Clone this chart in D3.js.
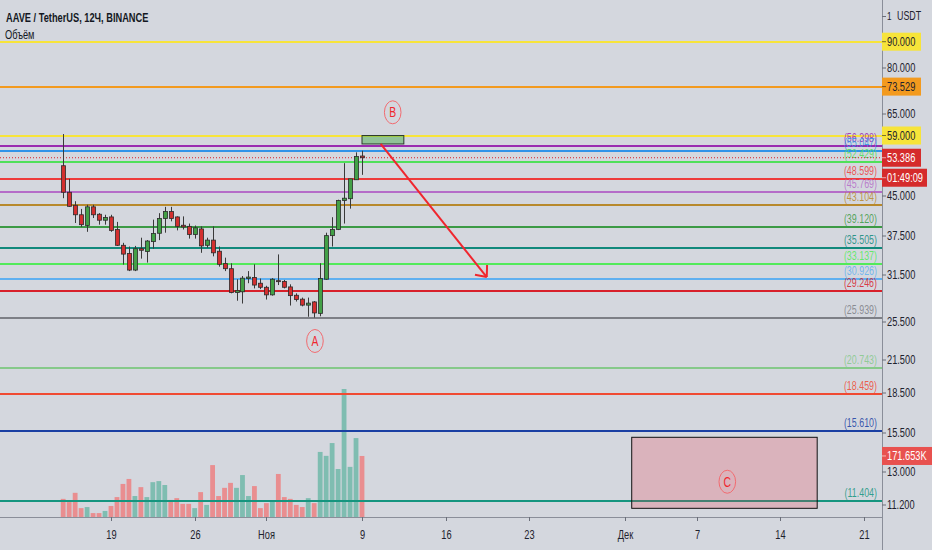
<!DOCTYPE html>
<html><head><meta charset="utf-8">
<script src="https://cdn.jsdelivr.net/npm/d3@7"></script>
<style>
body{margin:0;background:#d4d7de;}
svg{display:block;font-family:'Liberation Sans',Arial,sans-serif;}
</style>
</head><body>
<svg id="c" width="932" height="550"></svg>
<script>
// ---------- data ----------
const firstCandle = Date.UTC(2020, 9, 15, 0, 0);   // 12h candles
const candleOpen  = [51.5,45.7,43.1,41.3,39.35,42.8,41.4,40.3,40.9,38.65,36.0,34.7,32.2,35.45,35.0,36.6,38.0,40.6,41.9,40.9,39.4,39.2,37.8,38.75,36.0,36.85,35.05,33.15,32.4,29.1,29.2,31.0,31.15,30.35,29.8,28.8,30.7,30.6,29.85,28.75,28.25,27.5,27.9,26.5,30.9,37.6,38.65,44.05,44.4,48.35,53.8];
const candleHigh  = [59.4,48.55,43.9,42.4,43.2,43.2,41.6,41.3,41.3,40.0,36.4,35.8,35.9,37.25,36.85,40.4,41.6,42.8,42.8,41.0,41.0,39.7,39.35,39.2,37.25,39.2,35.8,34.05,33.2,30.9,31.35,32.05,33.05,31.0,30.0,31.05,34.55,30.8,30.2,29.0,28.45,28.45,28.0,33.2,38.1,40.85,44.2,52.1,48.55,54.7,55.1];
const candleLow   = [44.5,42.8,39.8,39.1,38.25,40.7,39.5,39.5,38.25,35.9,33.0,32.05,32.05,33.9,33.3,35.45,36.85,38.1,40.1,38.5,38.65,37.1,37.1,34.8,35.6,34.25,32.7,32.05,29.0,28.05,27.7,30.35,29.65,29.55,28.2,28.7,30.1,29.65,27.45,27.95,27.35,26.1,26.0,26.15,30.8,35.8,38.55,39.7,42.45,48.3,49.43];
const candleClose = [45.7,42.9,41.3,39.5,42.8,41.3,40.3,40.8,38.5,36.0,34.6,32.2,35.45,35.2,36.7,37.95,40.6,41.9,40.6,39.2,39.1,37.8,38.95,35.9,36.85,34.8,33.05,32.4,29.1,29.35,31.05,31.2,30.1,29.8,28.8,30.9,30.6,29.8,28.7,28.2,27.5,27.75,26.55,31.0,37.6,38.65,44.05,44.5,48.55,53.7,53.386];
const volumeK     = [51,42,68,25,28,11,11,17,31,56,93,107,59,84,56,98,101,90,48,53,37,37,25,70,34,146,59,82,96,82,118,59,87,25,39,45,121,56,51,34,28,53,39,183,172,208,135,360,141,222,171.653];

const levelPrices = [90, 73.529, 59, 56.398, 55.047, 52.429, 48.599, 45.769, 43.104, 39.120, 35.505, 33.137, 30.926, 29.246, 25.939, 20.743, 18.459, 15.610, 11.404];
const levelColors = ['#f7e43a','#f39a1e','#f7e43a','#9a2bb0','#2f93e8','#4fe05a','#ee3b3b','#b56cc8','#b8892c','#3c9a45','#11897c','#52ea5a','#5fb0f0','#d8202a','#7d7f86','#86c98a','#f04a32','#1a3fa3','#15957f'];
const levelTagged = [true, true, true, false, false, false, false, false, false, false, false, false, false, false, false, false, false, false, false];

const priceTicks = [80, 65, 45, 37.5, 31.5, 25.5, 21.5, 18.5, 15.5, 13, 11.2];
const timeTicks  = [Date.UTC(2020,9,19),Date.UTC(2020,9,26),Date.UTC(2020,10,1),Date.UTC(2020,10,9),Date.UTC(2020,10,16),Date.UTC(2020,10,23),Date.UTC(2020,11,1),Date.UTC(2020,11,7),Date.UTC(2020,11,14),Date.UTC(2020,11,21)];
const timeLabels = ['19','26','Ноя','9','16','23','Дек','7','14','21'];

const lastPrice = 53.386;
const countdown = '01:49:09';
const lastVolumeLabel = '171.653K';

// drawings (time, price)
const zoneB   = [Date.UTC(2020,10,9,0), Date.UTC(2020,10,12,12), 59.0, 56.8];
const zoneC   = [Date.UTC(2020,11,1,13,35), Date.UTC(2020,11,17,2), 15.17, 11.02];
const arrowFrom = [Date.UTC(2020,10,10,13,30), 56.8];
const arrowTo   = [Date.UTC(2020,10,19,10,30), 31.2];
const waveLabels = ['A','B','C'];
const wavePoints = [[Date.UTC(2020,10,5,1,30), 23.4],[Date.UTC(2020,10,11,13,40), 65.5],[Date.UTC(2020,11,9,13,30), 12.42]];

// ---------- layout ----------
const W = 932, H = 550, plotR = 882, plotB = 517;
const svg = d3.select('#c');
const x = d3.scaleUtc().domain([Date.UTC(2020,9,19), Date.UTC(2020,10,9)]).range([111, 362]);
const y = d3.scaleLog().domain([90, 11.404]).range([41.7, 500.7]);
const yv = d3.scaleLinear().domain([0, 360]).range([plotB, 389]);
const H12 = 12*3600*1000;
const candles = candleOpen.map((o,i)=>({t:firstCandle+i*H12,o,h:candleHigh[i],l:candleLow[i],c:candleClose[i],v:volumeK[i]}));

svg.append('rect').attr('width',W).attr('height',H).attr('fill','#d4d7de');
svg.append('defs').append('clipPath').attr('id','plot').append('rect').attr('width',plotR).attr('height',plotB);
const plot = svg.append('g').attr('clip-path','url(#plot)');

// volume
plot.append('g').selectAll('rect').data(candles).join('rect')
  .attr('x',d=>x(d.t)-2.4).attr('width',4.8)
  .attr('y',d=>yv(d.v)).attr('height',d=>plotB-yv(d.v))
  .attr('fill',d=>d.c>=d.o?'#7fbdb1':'#e98e90');

// levels
plot.append('g').selectAll('line').data(levelPrices).join('line')
  .attr('x1',0).attr('x2',plotR)
  .attr('y1',d=>Math.round(y(d))).attr('y2',d=>Math.round(y(d)))
  .attr('stroke',(d,i)=>levelColors[i]).attr('stroke-width',2);
plot.append('g').selectAll('text').data(levelPrices.filter((d,i)=>!levelTagged[i])).join('text')
  .attr('class','nar')
  .attr('x',877).attr('y',d=>Math.round(y(d))-4).attr('text-anchor','end')
  .attr('font-size',12)
  .attr('fill',d=>levelColors[levelPrices.indexOf(d)]).attr('fill-opacity',0.85)
  .text(d=>'('+d.toFixed(3)+')');

// current price dotted line
plot.append('line').attr('x1',0).attr('x2',plotR).attr('y1',y(lastPrice)).attr('y2',y(lastPrice))
  .attr('stroke','#d8202a').attr('stroke-width',1).attr('stroke-dasharray','1,2');

// candles
const cg = plot.append('g');
cg.selectAll('line').data(candles).join('line')
  .attr('x1',d=>Math.round(x(d.t))+0.5).attr('x2',d=>Math.round(x(d.t))+0.5)
  .attr('y1',d=>y(d.h)).attr('y2',d=>y(d.l)).attr('stroke','#3a3a3a').attr('stroke-width',1);
cg.selectAll('rect').data(candles).join('rect')
  .attr('x',d=>Math.round(x(d.t))-1.5).attr('width',4)
  .attr('y',d=>y(Math.max(d.o,d.c))).attr('height',d=>Math.max(1,y(Math.min(d.o,d.c))-y(Math.max(d.o,d.c))))
  .attr('fill',d=>d.c>=d.o?'#43a047':'#d32f2f').attr('stroke','#2b2b2b').attr('stroke-width',0.8);

// zones
plot.append('rect').attr('x',x(zoneB[0])).attr('width',x(zoneB[1])-x(zoneB[0]))
  .attr('y',y(zoneB[2])).attr('height',y(zoneB[3])-y(zoneB[2]))
  .attr('fill','rgba(76,175,80,0.5)').attr('stroke','#2b3a2b').attr('stroke-width',1);
plot.append('rect').attr('x',x(zoneC[0])).attr('width',x(zoneC[1])-x(zoneC[0]))
  .attr('y',y(zoneC[2])).attr('height',y(zoneC[3])-y(zoneC[2]))
  .attr('fill','rgba(242,54,69,0.22)').attr('stroke','#111').attr('stroke-width',1);

// arrow
const ax0 = x(arrowFrom[0]), ay0 = y(arrowFrom[1]), ax1 = x(arrowTo[0]), ay1 = y(arrowTo[1]);
plot.append('line').attr('x1',ax0).attr('y1',ay0).attr('x2',ax1).attr('y2',ay1)
  .attr('stroke','#f0262e').attr('stroke-width',2);
const ang = Math.atan2(ay0-ay1, ax0-ax1);
[ -0.7, 0.7 ].forEach(da=>{
  plot.append('line').attr('x1',ax1).attr('y1',ay1)
    .attr('x2',ax1+12*Math.cos(ang+da)).attr('y2',ay1+12*Math.sin(ang+da))
    .attr('stroke','#f0262e').attr('stroke-width',2);
});

// wave labels
const wl = plot.append('g').selectAll('g').data(wavePoints).join('g')
  .attr('transform',d=>`translate(${x(d[0])},${y(d[1])})`);
wl.append('ellipse').attr('rx',8.3).attr('ry',11.5).attr('fill','none').attr('stroke','#f26b70').attr('stroke-width',1);
wl.append('text').attr('class','nar').attr('text-anchor','middle').attr('dy','0.36em').attr('font-size',14)
  .attr('fill','#f0262e').text((d,i)=>waveLabels[i]);

// axes lines
svg.append('line').attr('x1',plotR+0.5).attr('x2',plotR+0.5).attr('y1',0).attr('y2',H).attr('stroke','#8a8e99');
svg.append('line').attr('x1',0).attr('x2',plotR).attr('y1',plotB+0.5).attr('y2',plotB+0.5).attr('stroke','#8a8e99');

// price ticks
const pt = svg.append('g').selectAll('g').data(priceTicks).join('g').attr('transform',d=>`translate(0,${Math.round(y(d))})`);
pt.append('line').attr('x1',plotR).attr('x2',plotR+4).attr('stroke','#6a6e79');
pt.append('text').attr('class','nar').attr('x',887).attr('dy','0.35em').attr('font-size',12.5).attr('fill','#1e222d').text(d=>d3.format('.3f')(d));

svg.append('line').attr('x1',plotR).attr('x2',plotR+4).attr('y1',16.5).attr('y2',16.5).attr('stroke','#6a6e79');
svg.append('text').attr('class','nar').attr('x',887).attr('y',16).attr('dy','0.35em').attr('font-size',11).attr('fill','#1e222d').text('1');
svg.append('text').attr('class','nar').attr('x',897).attr('y',16).attr('dy','0.35em').attr('font-size',12).attr('fill','#1e222d').text('USDT');

// tagged labels on price axis
function tag(cy, txt, fill, color, w){
  const g = svg.append('g').attr('transform',`translate(${plotR},${cy})`);
  g.append('rect').attr('x',0).attr('y',-9).attr('width',w).attr('height',18).attr('fill',fill);
  g.append('line').attr('x1',0).attr('x2',4).attr('stroke',color).attr('stroke-opacity',0.6);
  g.append('text').attr('class','nar').attr('x',5).attr('dy','0.36em').attr('font-size',12.5).attr('fill',color).text(txt);
}
levelPrices.forEach((p,i)=>{ if(levelTagged[i]) tag(y(p), d3.format('.3f')(p), levelColors[i], '#1e222d', 39); });
tag(y(lastPrice), d3.format('.3f')(lastPrice), '#d52b2b', '#ffffff', 39);
tag(y(lastPrice)+20, countdown, '#d52b2b', '#ffffff', 45);
tag(yv(171.653), lastVolumeLabel, '#e8514f', '#ffffff', 50);

// time axis
const tt = svg.append('g').selectAll('g').data(timeTicks).join('g').attr('transform',d=>`translate(${Math.round(x(d))+0.5},0)`);
tt.append('line').attr('y1',plotB).attr('y2',plotB+4).attr('stroke','#6a6e79');
tt.append('text').attr('class','nar').attr('y',539).attr('text-anchor','middle').attr('font-size',12.5).attr('fill','#1e222d').text((d,i)=>timeLabels[i]);

// title
svg.append('text').attr('class','nar').attr('x',6).attr('y',22).attr('font-size',12.5).attr('font-weight','bold').attr('fill','#131722').text('AAVE / TetherUS, 12Ч, BINANCE');
svg.append('text').attr('class','nar').attr('x',5).attr('y',39).attr('font-size',12.5).attr('fill','#131722').text('Объём');

// condensed look of the original chart font
svg.selectAll('text.nar').each(function(){
  const w = this.getComputedTextLength();
  d3.select(this).attr('textLength', w*0.74).attr('lengthAdjust','spacingAndGlyphs');
});
</script>
</body></html>
